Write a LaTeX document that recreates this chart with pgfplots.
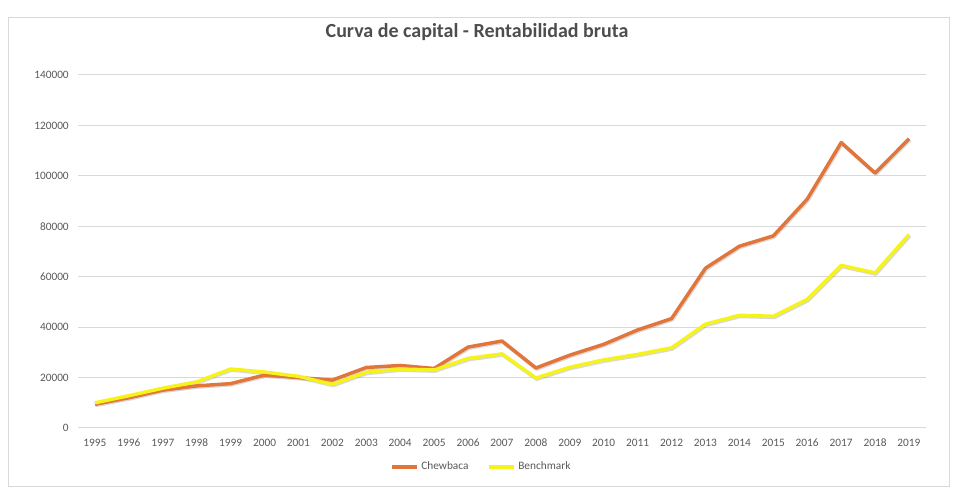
\documentclass[border=0pt]{standalone}
\usepackage{fontspec}
\setmainfont{Carlito}
\usepackage{pgfplots}
\pgfplotsset{compat=1.18}
\definecolor{cborange}{HTML}{E2763A}
\definecolor{cbyellow}{HTML}{F5F21C}
\definecolor{gridgray}{HTML}{D9D9D9}
\definecolor{labelgray}{HTML}{595959}
\definecolor{titlegray}{HTML}{4D4D4D}
\pgfplotstableread{
year chew bench
1995 9400 10000
1996 12000 12800
1997 15000 15800
1998 16700 18300
1999 17600 23400
2000 21000 22200
2001 20000 20500
2002 19000 17300
2003 24000 22100
2004 24800 23400
2005 23600 23000
2006 32100 27600
2007 34500 29400
2008 23800 19800
2009 28900 24100
2010 33200 27000
2011 38900 29200
2012 43400 31800
2013 63400 41200
2014 72100 44700
2015 76200 44300
2016 90800 51000
2017 113200 64500
2018 101100 61500
2019 114700 76700
}\datatable
\begin{document}
\begin{tikzpicture}
\path[use as bounding box] (0pt,0pt) rectangle (717.75pt,371.25pt);
\draw[gridgray, line width=0.75pt] (6.4pt,6pt) rectangle (711.75pt,357.75pt);
\node[font=\bfseries\fontsize{15}{17}\selectfont, text=titlegray] at (357.75pt,347.25pt) {Curva de capital - Rentabilidad bruta};
\begin{axis}[
  at={(58.5pt,50.25pt)}, anchor=south west,
  scale only axis, width=636pt, height=264.75pt,
  xmin=1994.5, xmax=2019.5, ymin=0, ymax=140000,
  xtick={1995,...,2019}, ytick={0,20000,...,140000},
  ymajorgrids, major grid style={draw=gridgray, line width=0.75pt},
  axis line style={draw=none}, tick style={draw=none},
  scaled y ticks=false,
  /pgf/number format/assume math mode=true,
  /pgf/number format/fixed, /pgf/number format/1000 sep={},
  ticklabel style={font=\fontsize{8.5}{10}\selectfont, text=labelgray},
  yticklabel style={inner sep=0pt, anchor=east, xshift=-6.75pt},
  xticklabel style={inner sep=0pt, anchor=center, yshift=-11.25pt},
  clip=false,
  legend style={at={(axis description cs:0.476,-0.11)}, anchor=center, draw=none, fill=none,
    legend columns=2, font=\fontsize{8.5}{10}\selectfont, text=labelgray,
    /tikz/every even column/.append style={column sep=12pt},
    /tikz/every odd column/.append style={column sep=0pt}},
  legend image code/.code={\draw[#1] (0pt,0pt) -- (18.75pt,0pt);},
]
\addplot[black!60, opacity=0.25, line width=2.8pt, line join=round, forget plot,
  transform canvas={xshift=0.6pt,yshift=-0.8pt}] table[x=year,y=chew] {\datatable};
\addplot[black!60, opacity=0.25, line width=2.8pt, line join=round, forget plot,
  transform canvas={xshift=0.6pt,yshift=-0.8pt}] table[x=year,y=bench] {\datatable};
\addplot[cborange, line width=2.6pt, line join=round] table[x=year,y=chew] {\datatable};
\addlegendentry{Chewbaca}
\addplot[cbyellow, line width=2.6pt, line join=round] table[x=year,y=bench] {\datatable};
\addlegendentry{Benchmark}
\end{axis}
\end{tikzpicture}
\end{document}
